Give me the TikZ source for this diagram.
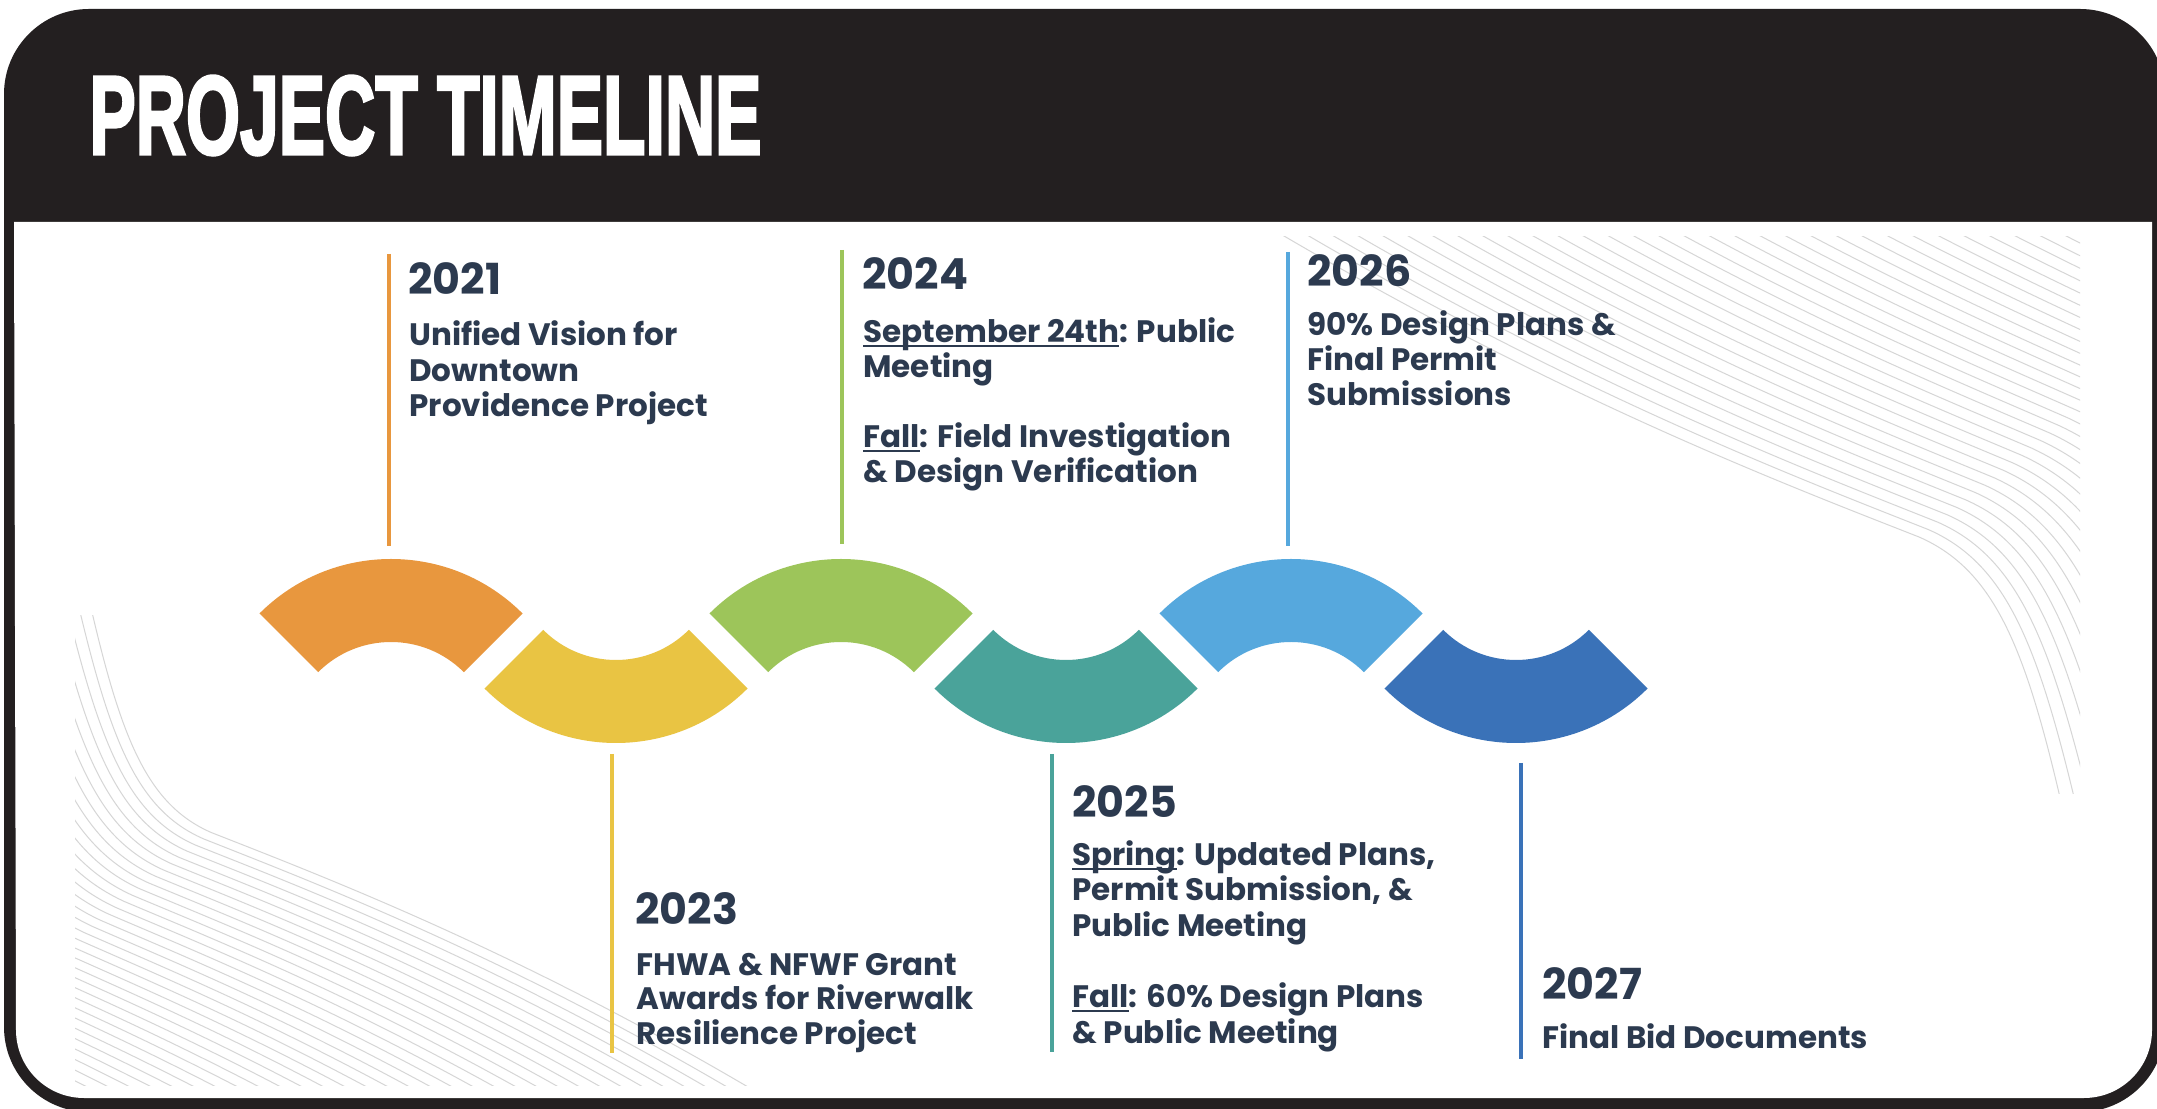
\documentclass[tikz,border=0pt]{standalone}
\usepackage{fontspec}
\setmainfont{Poppins}
\newfontfamily\hdrfont{Liberation Sans}[BoldFeatures={FakeBold=3}]
\usetikzlibrary{calc}
\definecolor{cOrange}{HTML}{E8973E}
\definecolor{cYellow}{HTML}{E9C443}
\definecolor{cGreen}{HTML}{9DC55A}
\definecolor{cTeal}{HTML}{4AA39A}
\definecolor{cSky}{HTML}{56A8DD}
\definecolor{cBlue}{HTML}{3A72B8}
\definecolor{ink}{HTML}{2C3A4F}
\definecolor{frameblack}{HTML}{231F20}
\newcommand\myul[1]{\setbox0\hbox{#1}\rlap{\rule[-2.2pt]{\wd0}{1.1pt}}\box0}
\newcommand\bgfamily{%
  \foreach \i in {0,...,31}{%
    \pgfmathsetmacro\u{\i/31}%
    \draw[bgline] ({-60+580*\u},{-40-110*\u})
      .. controls ({250+450*\u},{150-190*\u}) and ({500+330*\u},{245-225*\u})
      .. ({640+290*\u},{300-230*\u})
      .. controls ({720+290*\u},{335-225*\u}) and ({750+330*\u},{420-260*\u})
      .. ({790+360*\u},{600-370*\u});
  }}
\begin{document}
\begin{tikzpicture}[x=0.5pt,y=0.5pt,
  yearlbl/.style={anchor=base west, inner sep=0pt, text=ink, font=\bfseries\fontsize{21.4}{24}\selectfont},
  bodylbl/.style={anchor=base west, inner sep=0pt, text=ink, font=\bfseries\fontsize{15.5}{18}\selectfont},
  stem/.style={line width=2.3pt},
  bgline/.style={line width=0.5pt, draw=black!16}]
\useasboundingbox (0,0) rectangle (2157,1108);
% frame
\fill[frameblack, rounded corners=42.5pt] (4,-4) rectangle (2165,1099);
\fill[white] (14,886) -- (2152,886) -- (2152,78) arc[start angle=0,end angle=-90,radius=68]
  -- (84,10) arc[start angle=270,end angle=180,radius=68] -- cycle;
% background line families
\begin{scope}[shift={(1279,871)}, yscale=-1]
  \clip (0,0) rectangle (801,557);
  \bgfamily
\end{scope}
\begin{scope}[shift={(752,22)}, xscale=-0.845, yscale=0.845]
  \clip (0,0) rectangle (801,557);
  \bgfamily
\end{scope}
% title
\node[anchor=base west, inner sep=0pt, text=white] (title) at (89,954)
  {\resizebox{336pt}{39pt}{\hdrfont\bfseries PROJECT TIMELINE}};
% wave centres
\coordinate (c1) at (391,363);
\coordinate (c2) at (616,551);
\coordinate (c3) at (841,363);
\coordinate (c4) at (1066,551);
\coordinate (c5) at (1291,363);
\coordinate (c6) at (1516,551);
\foreach \c/\col in {c1/cOrange,c3/cGreen,c5/cSky}{
  \fill[\col] ($(\c)+(45:186)$) arc[start angle=45,end angle=135,radius=186]
    -- ($(\c)+(135:103)$) arc[start angle=135,end angle=45,radius=103] -- cycle;
}
\foreach \c/\col in {c2/cYellow,c4/cTeal,c6/cBlue}{
  \fill[\col] ($(\c)+(225:186)$) arc[start angle=225,end angle=315,radius=186]
    -- ($(\c)+(315:103)$) arc[start angle=315,end angle=225,radius=103] -- cycle;
}
% stems
\coordinate (s1a) at (389,854); \coordinate (s1b) at (389,562);
\coordinate (s2a) at (612,354); \coordinate (s2b) at (612,55);
\coordinate (s3a) at (842,858); \coordinate (s3b) at (842,564);
\coordinate (s4a) at (1052,354); \coordinate (s4b) at (1052,56);
\coordinate (s5a) at (1288,856); \coordinate (s5b) at (1288,562);
\coordinate (s6a) at (1521,345); \coordinate (s6b) at (1521,49);
\draw[stem,cOrange] (s1a) -- (s1b);
\draw[stem,cYellow] (s2a) -- (s2b);
\draw[stem,cGreen] (s3a) -- (s3b);
\draw[stem,cTeal] (s4a) -- (s4b);
\draw[stem,cSky] (s5a) -- (s5b);
\draw[stem,cBlue] (s6a) -- (s6b);
% 2021
\node[yearlbl] (y2021) at (408,813) {2021};
\node[bodylbl] (t21a) at (409,762) {Unified Vision for};
\node[bodylbl] (t21b) at (409,726) {Downtown};
\node[bodylbl] (t21c) at (409,691) {Providence Project};
% 2024
\node[yearlbl] (y2024) at (862,818) {2024};
\node[bodylbl] (t24a) at (863,765) {\myul{September 24th}: Public};
\node[bodylbl] (t24b) at (863,730) {Meeting};
\node[bodylbl] (t24c) at (863,660) {\myul{Fall}: Field Investigation};
\node[bodylbl] (t24d) at (863,625) {\& Design Verification};
% 2026
\node[yearlbl] (y2026) at (1307,821) {2026};
\node[bodylbl] (t26a) at (1307,772) {90\% Design Plans \&};
\node[bodylbl] (t26b) at (1307,737) {Final Permit};
\node[bodylbl] (t26c) at (1307,702) {Submissions};
% 2023
\node[yearlbl] (y2023) at (635,183) {2023};
\node[bodylbl] (t23a) at (636,132) {FHWA \& NFWF Grant};
\node[bodylbl] (t23b) at (636,98) {Awards for Riverwalk};
\node[bodylbl] (t23c) at (636,63) {Resilience Project};
% 2025
\node[yearlbl] (y2025) at (1072,290) {2025};
\node[bodylbl] (t25a) at (1072,242) {\myul{Spring}: Updated Plans,};
\node[bodylbl] (t25b) at (1072,207) {Permit Submission, \&};
\node[bodylbl] (t25c) at (1072,171) {Public Meeting};
\node[bodylbl] (t25d) at (1072,100) {\myul{Fall}: 60\% Design Plans};
\node[bodylbl] (t25e) at (1072,64) {\& Public Meeting};
% 2027
\node[yearlbl] (y2027) at (1542,108) {2027};
\node[bodylbl] (t27a) at (1542,60) {Final Bid Documents};
\end{tikzpicture}
\end{document}
